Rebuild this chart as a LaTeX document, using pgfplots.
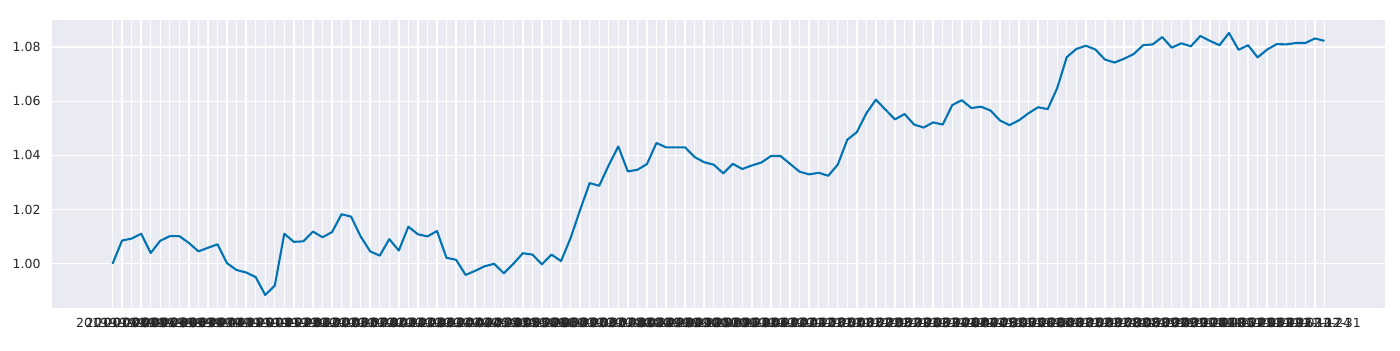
\documentclass[border=0pt]{standalone}
\usepackage{fontspec}
\setmainfont{DejaVu Sans}
\usepackage{pgfplots}
\pgfplotsset{compat=1.18}
\definecolor{sbbg}{HTML}{EAEAF2}
\definecolor{sbline}{HTML}{0173B2}
\definecolor{sbtext}{HTML}{262626}
\begin{document}
\begin{tikzpicture}
\useasboundingbox (0,0) rectangle (1008pt,252pt);
\begin{axis}[
  at={(37.4pt,30.2pt)}, anchor=south west,
  scale only axis, width=959.8pt, height=207.4pt,
  xmin=-6.35, xmax=133.35, ymin=0.98366, ymax=1.09,
  axis background/.style={fill=sbbg},
  axis line style={draw=none},
  tick style={draw=none},
  grid=major,
  major grid style={white, line width=1pt},
  ytick={1.00,1.02,1.04,1.06,1.08},
  yticklabel style={/pgf/number format/fixed, /pgf/number format/fixed zerofill, /pgf/number format/precision=2, anchor=east, inner sep=0pt, xshift=-8pt},
  /pgf/number format/assume math mode=true,
  tick label style={font=\fontsize{9}{10}\selectfont, text=sbtext},
  xtick={0,...,127},
  xticklabel style={anchor=north, inner sep=0pt, yshift=-7pt},
  xticklabels={2019-07-26,2019-08-02,2019-08-09,2019-08-16,2019-08-23,2019-08-30,2019-09-06,2019-09-13,2019-09-20,2019-09-27,2019-10-04,2019-10-11,2019-10-18,2019-10-25,2019-11-01,2019-11-08,2019-11-15,2019-11-22,2019-11-29,2019-12-06,2019-12-13,2019-12-20,2019-12-27,
  2020-01-03,2020-01-10,2020-01-17,2020-01-24,2020-01-31,2020-02-07,2020-02-14,2020-02-21,2020-02-28,2020-03-06,2020-03-13,2020-03-20,2020-03-27,2020-04-03,2020-04-10,2020-04-17,2020-04-24,2020-05-01,2020-05-08,2020-05-15,2020-05-22,2020-05-29,2020-06-05,2020-06-12,2020-06-19,2020-06-26,2020-07-03,2020-07-10,2020-07-17,2020-07-24,2020-07-31,2020-08-07,2020-08-14,2020-08-21,2020-08-28,2020-09-04,2020-09-11,2020-09-18,2020-09-25,2020-10-02,2020-10-09,2020-10-16,2020-10-23,2020-10-30,2020-11-06,2020-11-13,2020-11-20,2020-11-27,2020-12-04,2020-12-11,2020-12-18,2020-12-25,
  2021-01-01,2021-01-08,2021-01-15,2021-01-22,2021-01-29,2021-02-05,2021-02-12,2021-02-19,2021-02-26,2021-03-05,2021-03-12,2021-03-19,2021-03-26,2021-04-02,2021-04-09,2021-04-16,2021-04-23,2021-04-30,2021-05-07,2021-05-14,2021-05-21,2021-05-28,2021-06-04,2021-06-11,2021-06-18,2021-06-25,2021-07-02,2021-07-09,2021-07-16,2021-07-23,2021-07-30,2021-08-06,2021-08-13,2021-08-20,2021-08-27,2021-09-03,2021-09-10,2021-09-17,2021-09-24,2021-10-01,2021-10-08,2021-10-15,2021-10-22,2021-10-29,2021-11-05,2021-11-12,2021-11-19,2021-11-26,2021-12-03,2021-12-10,2021-12-17,2021-12-24,2021-12-31},
]
\addplot[sbline, line width=1.5pt, line join=round, no marks] coordinates {
(0,1.0000) (1,1.0086) (2,1.0093) (3,1.0111) (4,1.0040) (5,1.0085) (6,1.0102) (7,1.0102) (8,1.0077) (9,1.0046)
(10,1.0059) (11,1.0072) (12,1.0002) (13,0.9977) (14,0.9968) (15,0.9951) (16,0.9885) (17,0.9919) (18,1.0111) (19,1.0081)
(20,1.0083) (21,1.0119) (22,1.0098) (23,1.0117) (24,1.0183) (25,1.0174) (26,1.0101) (27,1.0046) (28,1.0030) (29,1.0091)
(30,1.0049) (31,1.0137) (32,1.0109) (33,1.0101) (34,1.0121) (35,1.0022) (36,1.0015) (37,0.9959) (38,0.9974) (39,0.9991)
(40,1.0000) (41,0.9965) (42,1.0000) (43,1.0039) (44,1.0034) (45,0.9998) (46,1.0034) (47,1.0010) (48,1.0095) (49,1.0199)
(50,1.0298) (51,1.0288) (52,1.0364) (53,1.0433) (54,1.0341) (55,1.0347) (56,1.0368) (57,1.0446) (58,1.0430) (59,1.0430)
(60,1.0430) (61,1.0394) (62,1.0375) (63,1.0366) (64,1.0334) (65,1.0369) (66,1.0350) (67,1.0363) (68,1.0374) (69,1.0398)
(70,1.0398) (71,1.0369) (72,1.0340) (73,1.0330) (74,1.0336) (75,1.0325) (76,1.0366) (77,1.0458) (78,1.0486) (79,1.0556)
(80,1.0606) (81,1.0569) (82,1.0533) (83,1.0553) (84,1.0514) (85,1.0503) (86,1.0522) (87,1.0514) (88,1.0586) (89,1.0604)
(90,1.0575) (91,1.0580) (92,1.0566) (93,1.0529) (94,1.0512) (95,1.0530) (96,1.0556) (97,1.0578) (98,1.0571) (99,1.0649)
(100,1.0763) (101,1.0793) (102,1.0805) (103,1.0791) (104,1.0754) (105,1.0743) (106,1.0757) (107,1.0774) (108,1.0807) (109,1.0810)
(110,1.0837) (111,1.0798) (112,1.0814) (113,1.0803) (114,1.0841) (115,1.0823) (116,1.0807) (117,1.0852) (118,1.0790) (119,1.0807)
(120,1.0762) (121,1.0791) (122,1.0811) (123,1.0810) (124,1.0815) (125,1.0815) (126,1.0832) (127,1.0823)
};
\end{axis}
\end{tikzpicture}
\end{document}
